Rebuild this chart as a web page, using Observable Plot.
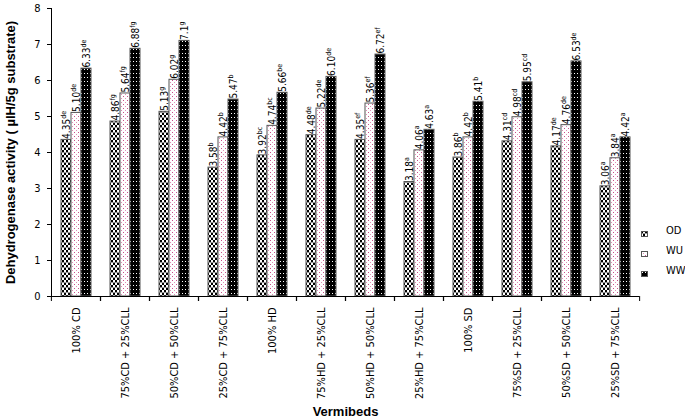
<!DOCTYPE html>
<html><head><meta charset="utf-8">
<script src="https://cdn.jsdelivr.net/npm/d3@7"></script>
<script src="https://cdn.jsdelivr.net/npm/@observablehq/plot@0.6"></script>
<style>
body{margin:0;background:#fff;}
#wrap{position:relative;width:685px;height:418px;}
.leg{position:absolute;left:641px;font-family:"DejaVu Sans Condensed",sans-serif;font-size:11px;color:#000;}
.leg svg{position:absolute;left:0;top:0;}
.leg span{position:absolute;left:25px;top:-7px;white-space:nowrap;}
</style></head><body><div id="wrap"></div>
<script>
const categories = ["100% CD","75%CD + 25%CLL","50%CD + 50%CLL","25%CD + 75%CLL","100% HD","75%HD + 25%CLL","50%HD + 50%CLL","25%HD + 75%CLL","100% SD","75%SD + 25%CLL","50%SD + 50%CLL","25%SD + 75%CLL"];
const seriesNames = ["OD","WU","WW"];
const odValues = [4.35,4.86,5.13,3.58,3.92,4.48,4.35,3.18,3.86,4.31,4.17,3.06];
const wuValues = [5.10,5.64,6.02,4.42,4.74,5.22,5.36,4.06,4.42,4.98,4.76,3.84];
const wwValues = [6.33,6.88,7.10,5.47,5.66,6.10,6.72,4.63,5.41,5.95,6.53,4.42];
const odLabels = ["4.35de","4.86fg","5.13g","3.58b","3.92bc","4.48de","4.35ef","3.18a","3.86b","4.31cd","4.17de","3.06a"];
const wuLabels = ["5.10de","5.64fg","6.02g","4.42b","4.74bc","5.22de","5.36ef","4.06a","4.42b","4.98cd","4.76de","3.84a"];
const wwLabels = ["6.33de","6.88fg","7.1g","5.47b","5.66be","6.10de","6.72ef","4.63a","5.41b","5.95cd","6.53de","4.42a"];
const yTicks = [0,1,2,3,4,5,6,7,8];
const yTitle = "Dehydrogenase activity ( \u00b5lH/5g substrate)";
const xTitle = "Vermibeds";

const valuesBySeries = {OD: odValues, WU: wuValues, WW: wwValues};
const labelsBySeries = {OD: odLabels, WU: wuLabels, WW: wwLabels};
const rows = [];
categories.forEach((c, i) => {
  seriesNames.forEach(s => rows.push({cat: c, series: s, value: valuesBySeries[s][i], label: labelsBySeries[s][i]}));
});

const W = 685, H = 418, mL = 49, mR = 45, mT = 8, mB = 122;
const step = (W - mL - mR) / categories.length;
const narrow = '"DejaVu Sans Condensed",sans-serif';

const plot = Plot.plot({
  width: W, height: H,
  marginLeft: mL, marginRight: mR, marginTop: mT, marginBottom: mB,
  style: {fontFamily: narrow, fontSize: "11px", color: "#000", background: "#fff"},
  fx: {domain: categories, padding: 0},
  x: {domain: seriesNames, paddingInner: 0, paddingOuter: 0.74, axis: null},
  y: {domain: [0, 8]},
  color: {domain: seriesNames, range: ["url(#pOD)", "url(#pWU)", "url(#pWW)"]},
  marks: [
    Plot.barY(rows, {fx: "cat", x: "series", y: "value", fill: "series", stroke: "#555", strokeWidth: 1}),
    Plot.text(rows, {fx: "cat", x: "series", y: "value", text: "label", rotate: -90, textAnchor: "start", dy: -1, fontSize: 10, fill: "#000"}),
    Plot.ruleY([0], {stroke: "#000"}),
    Plot.frame({anchor: "left", fx: categories[0], stroke: "#000"}),
    Plot.axisY({ticks: yTicks, tickSize: 4, tickPadding: 7, label: null, fontSize: 11}),
    Plot.axisY({ticks: yTicks, tickSize: 0, tickFormat: () => "", label: yTitle, labelAnchor: "center", labelOffset: 46, labelArrow: "none", fontWeight: "bold", fontSize: 13, fontFamily: "Liberation Sans, Arial, sans-serif"}),
    Plot.axisFx({anchor: "bottom", tickSize: 5, tickFormat: () => "", dx: -step / 2, label: null}),
    Plot.axisFx({anchor: "bottom", tickSize: 5, tickFormat: () => "", dx: step / 2, label: null}),
    Plot.axisFx({anchor: "bottom", tickSize: 0, tickPadding: 11, tickRotate: -90, fontSize: 11, label: null}),
    Plot.axisFx({anchor: "bottom", tickSize: 0, tickFormat: () => "", label: xTitle, labelAnchor: "center", labelOffset: 119, labelArrow: "none", fontWeight: "bold", fontSize: 13, fontFamily: "Liberation Sans, Arial, sans-serif"})
  ]
});

const svg = plot.tagName.toLowerCase() === "svg" ? plot : plot.querySelector("svg");
const defs = document.createElementNS("http://www.w3.org/2000/svg", "defs");
defs.innerHTML = `
<pattern id="pOD" patternUnits="userSpaceOnUse" width="4" height="5">
  <rect width="4" height="5" fill="#fff"/>
  <rect x="0" y="0" width="2" height="2" fill="#000"/>
  <rect x="0" y="2" width="4" height="1" fill="#999"/>
  <rect x="2" y="3" width="2" height="2" fill="#000"/>
</pattern>
<pattern id="pWU" patternUnits="userSpaceOnUse" width="4" height="4">
  <rect width="4" height="4" fill="#fff"/>
  <rect x="0" y="0" width="1" height="1" fill="#c8508a"/>
  <rect x="2" y="2" width="1" height="1" fill="#e090b8"/>
</pattern>
<pattern id="pWW" patternUnits="userSpaceOnUse" width="3" height="4">
  <rect width="3" height="4" fill="#000"/>
  <rect x="1" y="1" width="1" height="1" fill="#fff"/>
</pattern>`;
svg.insertBefore(defs, svg.firstChild);

// superscript letters on value labels
svg.querySelectorAll('g[aria-label="text"] text').forEach(t => {
  const m = t.textContent.match(/^([\d.]+)([a-z]+)$/);
  if (!m) return;
  t.textContent = "";
  const a = document.createElementNS("http://www.w3.org/2000/svg", "tspan");
  a.textContent = m[1];
  const b = document.createElementNS("http://www.w3.org/2000/svg", "tspan");
  b.textContent = m[2];
  b.setAttribute("font-size", "7");
  b.setAttribute("dy", "-4");
  t.appendChild(a); t.appendChild(b);
});

const wrap = document.getElementById("wrap");
wrap.appendChild(plot);

const legendTops = [231, 251, 271];
seriesNames.forEach((s, i) => {
  const d = document.createElement("div");
  d.className = "leg";
  d.style.top = legendTops[i] + "px";
  d.innerHTML = `<svg width="7" height="6"><rect x="0.5" y="0.5" width="6" height="5" fill="url(#p${s})" stroke="#555" stroke-width="1"/></svg><span>${s}</span>`;
  wrap.appendChild(d);
});
</script>
</body></html>
